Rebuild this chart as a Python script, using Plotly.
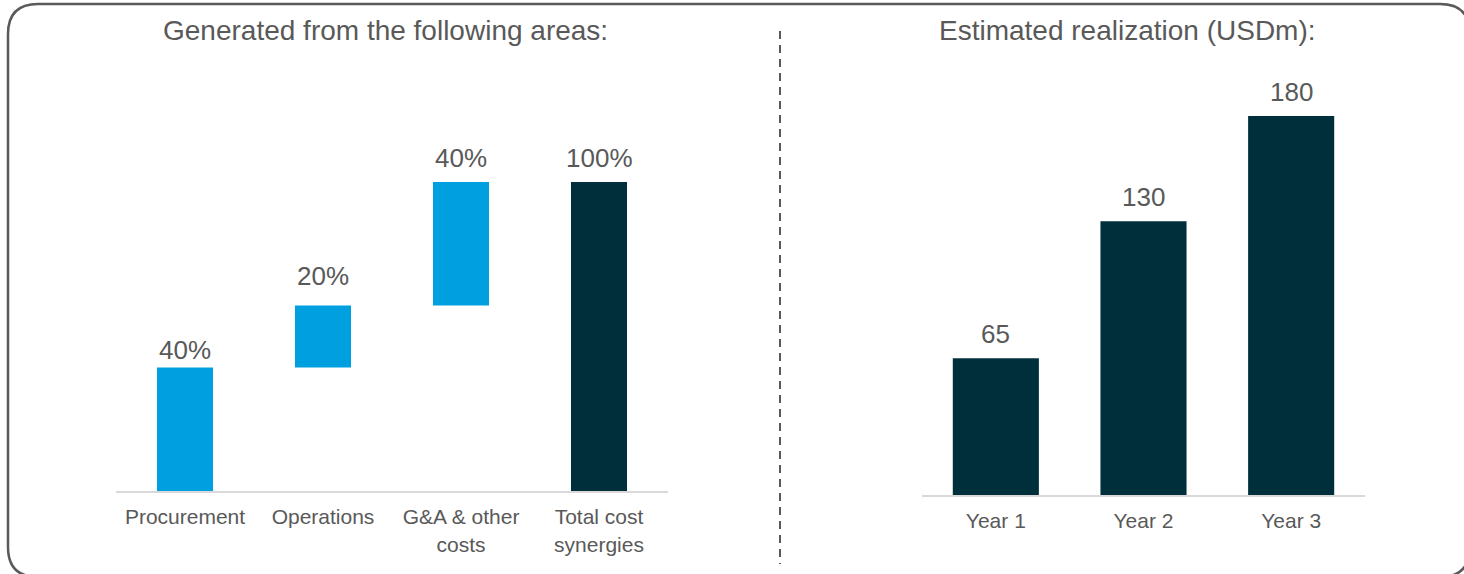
import plotly.graph_objects as go

# ---- data ----
areas = ["Procurement", "Operations", "G&A & other<br>costs", "Total cost<br>synergies"]
area_share = [40, 20, 40, 100]
area_kind = ["step", "step", "step", "total"]

years = ["Year 1", "Year 2", "Year 3"]
realization = [65, 130, 180]

left_title = "Generated from the following areas:"
right_title = "Estimated realization (USDm):"

# ---- styling ----
W, H = 1464, 574
FONT = "Liberation Sans, Arial, sans-serif"
TXT = "#595959"
BLUE = "#009FDF"
DARK = "#002F3C"
left_label_lift_px = [17, 30, 24, 24]   # label lift above bar top (style)
right_label_lift_px = 24

def px_x(x):
    return x / W

def px_y(y):
    return 1 - y / H

# waterfall bases from data
bases = []
running = 0
for v, k in zip(area_share, area_kind):
    if k == "total":
        bases.append(0)
    else:
        bases.append(running)
        running += v
colors = [DARK if k == "total" else BLUE for k in area_kind]

fig = go.Figure()
fig.add_trace(go.Bar(
    x=areas, y=area_share, base=bases, marker=dict(color=colors, line=dict(width=0)),
    xaxis="x", yaxis="y", showlegend=False, hoverinfo="skip", width=0.406,
))
fig.add_trace(go.Bar(
    x=years, y=realization, marker=dict(color=DARK, line=dict(width=0)),
    xaxis="x2", yaxis="y2", showlegend=False, hoverinfo="skip", width=0.583,
))

for cat, v, b, lift in zip(areas, area_share, bases, left_label_lift_px):
    fig.add_annotation(x=cat, y=b + v, xref="x", yref="y", text=f"{v}%", showarrow=False,
                       yanchor="middle", yshift=lift,
                       font=dict(family=FONT, size=26, color=TXT))
for cat, v in zip(years, realization):
    fig.add_annotation(x=cat, y=v, xref="x2", yref="y2", text=str(v), showarrow=False,
                       yanchor="middle", yshift=right_label_lift_px,
                       font=dict(family=FONT, size=26, color=TXT))

axis_common = dict(showgrid=False, zeroline=False, ticks="", fixedrange=True,
                   ticklabelstandoff=6,
                   tickfont=dict(family=FONT, size=21, color=TXT))

fig.update_layout(
    width=W, height=H, margin=dict(l=0, r=0, t=0, b=0),
    paper_bgcolor="white", plot_bgcolor="rgba(0,0,0,0)",
    xaxis=dict(domain=[px_x(116), px_x(668)], showline=True, linecolor="#D9D9D9", linewidth=2,
               anchor="y", **axis_common),
    yaxis=dict(domain=[px_y(491), px_y(40)], range=[0, 100 * (491 - 40) / 309], visible=False,
               anchor="x"),
    xaxis2=dict(domain=[px_x(922), px_x(1365)], showline=True, linecolor="#D9D9D9", linewidth=2,
                anchor="y2", **axis_common),
    yaxis2=dict(domain=[px_y(495), px_y(40)], range=[0, 180 * (495 - 40) / 379], visible=False,
                anchor="x2"),
    font=dict(family=FONT, color=TXT),
)

fig.add_annotation(x=px_x(385), y=px_y(30), xref="paper", yref="paper", text=left_title,
                   showarrow=False, font=dict(family=FONT, size=28, color=TXT), xanchor="center", yanchor="middle")
fig.add_annotation(x=px_x(1127), y=px_y(30), xref="paper", yref="paper", text=right_title,
                   showarrow=False, font=dict(family=FONT, size=28, color=TXT), xanchor="center", yanchor="middle")

# rounded border
L, T, R, B, r = 8, 4, 1470, 577, 30
def P(x, y):
    return f"{px_x(x)},{px_y(y)}"
path = (f"M {P(L + r, T)} L {P(R - r, T)} Q {P(R, T)} {P(R, T + r)} "
        f"L {P(R, B - r)} Q {P(R, B)} {P(R - r, B)} "
        f"L {P(L + r, B)} Q {P(L, B)} {P(L, B - r)} "
        f"L {P(L, T + r)} Q {P(L, T)} {P(L + r, T)} Z")
fig.add_shape(type="path", path=path, xref="paper", yref="paper",
              line=dict(color="#5A5A5A", width=2.5), fillcolor="rgba(0,0,0,0)")

# dashed divider
fig.add_shape(type="line", x0=px_x(780), x1=px_x(780), y0=px_y(31), y1=px_y(564),
              xref="paper", yref="paper", line=dict(color="#5A5A5A", width=2, dash="8px,6px"))

fig.write_html("out.html", config={"displayModeBar": False})
